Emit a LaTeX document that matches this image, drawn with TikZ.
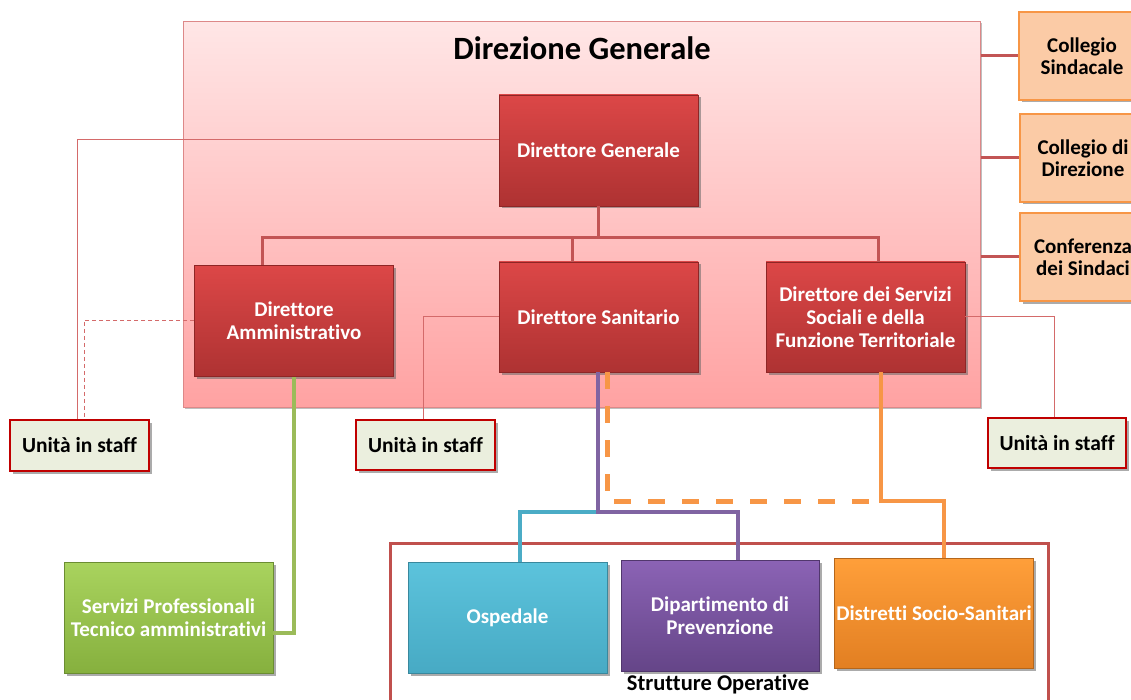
\documentclass[tikz,border=0pt]{standalone}
\usepackage{fontspec}
\setmainfont[Ligatures={NoCommon}]{Carlito}
\usetikzlibrary{shadows,calc}
\definecolor{dred}{HTML}{C0504D}
\definecolor{linered}{HTML}{C25555}
\definecolor{thinred}{HTML}{D46A6A}
\definecolor{boxtop}{HTML}{DC4747}
\definecolor{boxbot}{HTML}{AE3232}
\definecolor{boxborder}{HTML}{8E2626}
\definecolor{pinktop}{HTML}{FFE6E6}
\definecolor{pinkbot}{HTML}{FFA2A2}
\definecolor{peach}{HTML}{FBCBA6}
\definecolor{orangeb}{HTML}{F79646}
\definecolor{staffill}{HTML}{EBEFDE}
\definecolor{staffborder}{HTML}{C00000}
\definecolor{greentop}{HTML}{A9D35E}
\definecolor{greenbot}{HTML}{86B03E}
\definecolor{greenline}{HTML}{9BBB59}
\definecolor{tealtop}{HTML}{5CC3DC}
\definecolor{tealbot}{HTML}{47AAC4}
\definecolor{tealline}{HTML}{4BACC6}
\definecolor{purptop}{HTML}{8B63B5}
\definecolor{purpbot}{HTML}{654588}
\definecolor{purpline}{HTML}{8064A2}
\definecolor{orgtop}{HTML}{FF9F3A}
\definecolor{orgbot}{HTML}{E27F22}
\tikzset{
  every node/.style={font=\bfseries, align=center, inner sep=2pt},
  shadowed/.style={drop shadow={shadow xshift=2.5pt, shadow yshift=-2.5pt, fill=black!60, opacity=0.55}},
  dirbox/.style={shadowed, rectangle, draw=boxborder, line width=0.8pt, top color=boxtop, bottom color=boxbot, text=white, font=\bfseries\fontsize{21}{23}\selectfont, minimum width=199pt, minimum height=111pt},
  sidebox/.style={shadowed, rectangle, draw=orangeb, line width=1.2pt, fill=peach, text=black, font=\bfseries\fontsize{21}{22}\selectfont, minimum width=126pt, minimum height=88pt},
  staffbox/.style={shadowed, rectangle, draw=staffborder, line width=1.3pt, fill=staffill, text=black, font=\bfseries\fontsize{21.5}{23}\selectfont, minimum width=139pt, minimum height=50pt},
  opbox/.style={shadowed, rectangle, line width=0.8pt, text=white, font=\bfseries\fontsize{21}{23}\selectfont, minimum width=199pt, minimum height=111pt},
  treeline/.style={draw=linered, line width=3pt},
  staffline/.style={draw=thinred, line width=1pt},
}
\begin{document}
\begin{tikzpicture}[x=1pt,y=-1pt]
\useasboundingbox (0,0) rectangle (1131,700);
\fill[white] (0,0) rectangle (1131,700);
% big area
\node[rectangle, draw=thinred!80, line width=1pt, top color=pinktop, bottom color=pinkbot,
  minimum width=797pt, minimum height=385pt, drop shadow={shadow xshift=1.5pt, shadow yshift=-1.5pt, fill=black!50, opacity=0.5}] (area) at (581.5,214.5) {};
\node[font=\bfseries\fontsize{32.5}{36}\selectfont, text=black] (title) at (582,48) {Direzione Generale};

% strutture operative frame
\draw[dred, line width=3pt] (390,720) -- (390,543) -- (1048,543) -- (1048,720);
\node[font=\bfseries\fontsize{22.5}{24}\selectfont, text=black] (sotitle) at (718,684) {Strutture Operative};

% side boxes
\node[sidebox] (cs) at (1082,56) {Collegio\\Sindacale};
\node[sidebox] (cd) at (1083,158) {Collegio di\\Direzione};
\node[sidebox] (ci) at (1083,257) {Conferenza\\dei Sindaci};

% directors
\node[dirbox] (dg) at (598.5,150.5) {Direttore Generale};
\node[dirbox] (da) at (294,321) {Direttore\\Amministrativo};
\node[dirbox, minimum height=110pt] (ds) at (598.5,317) {Direttore Sanitario};
\node[dirbox, minimum height=110pt] (dss) at (865.5,317) {Direttore dei Servizi\\Sociali e della\\Funzione Territoriale};

% staff boxes
\node[staffbox, minimum height=51pt] (sl) at (79.5,445.5) {Unità in staff};
\node[staffbox] (sm) at (425.5,445) {Unità in staff};
\node[staffbox, minimum width=138pt] (sr) at (1057,443) {Unità in staff};

% operational boxes
\node[opbox, draw=greenbot!80!black, top color=greentop, bottom color=greenbot, minimum width=209pt] (sp) at (168.5,617.5) {Servizi Professionali\\Tecnico amministrativi};
\node[opbox, draw=tealbot!80!black, top color=tealtop, bottom color=tealbot] (osp) at (507.5,617.5) {Ospedale};
\node[opbox, draw=purpbot!80!black, top color=purptop, bottom color=purpbot, minimum width=198pt] (dip) at (720,615.5) {Dipartimento di\\Prevenzione};
\node[opbox, draw=orgbot!80!black, top color=orgtop, bottom color=orgbot, minimum width=198pt, minimum height=110pt] (dis) at (934,613) {Distretti Socio-Sanitari};

% tree connectors
\coordinate (bus) at (0,238);
\draw[treeline] (dg.south) -- (dg.south |- bus);
\draw[treeline] ([xshift=-32pt]da.north) -- ([xshift=-32pt]da.north |- bus) -- ([xshift=12.5pt]dss.north |- bus) -- ([xshift=12.5pt]dss.north);
\draw[treeline] ([xshift=-26.5pt]ds.north) -- ([xshift=-26.5pt]ds.north |- bus);

% side connectors
\draw[treeline] (area.east |- cs.west) -- (cs.west);
\draw[treeline] (area.east |- cd.west) -- (cd.west);
\draw[treeline] (area.east |- ci.west) -- (ci.west);

% staff connectors
\draw[staffline] (dg.west |- 0,140) -| ([xshift=-2.5pt]sl.north);
\draw[staffline, dashed, dash pattern=on 4pt off 3pt] (da.west |- 0,320) -| ([xshift=4.5pt]sl.north);
\draw[staffline] (ds.west |- 0,316) -| ([xshift=-2.5pt]sm.north);
\draw[staffline] (dss.east |- 0,316) -| ([xshift=-3pt]sr.north);

% green connector
\draw[draw=greenline, line width=4pt] (da.south) -- (da.south |- 0,633) -- (sp.east |- 0,633);

% teal/purple connectors
\coordinate (pj) at ([xshift=-0.5pt]ds.south |- 0,512);
\draw[draw=tealline, line width=4pt] (pj) -| ([xshift=12.5pt]osp.north);
\draw[draw=purpline, line width=4pt] ([xshift=-0.5pt]ds.south) -- (pj) -| ([xshift=18pt]dip.north);

% orange connectors
\draw[draw=orangeb, line width=5pt, dash pattern=on 17pt off 17pt] ([xshift=8.5pt]ds.south) -- ([xshift=8.5pt]ds.south |- 0,501) -- ([xshift=15.5pt]dss.south |- 0,501);
\draw[draw=orangeb, line width=4pt] ([xshift=15.5pt]dss.south) -- ([xshift=15.5pt]dss.south |- 0,501) -| ([xshift=10pt]dis.north);
\end{tikzpicture}
\end{document}
